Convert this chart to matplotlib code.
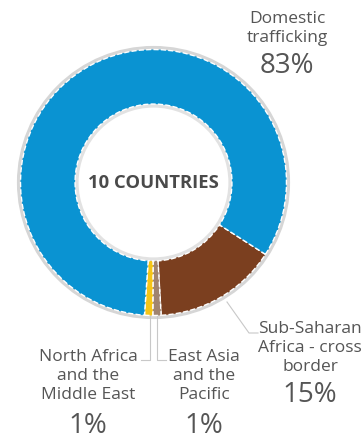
import matplotlib.pyplot as plt
from matplotlib.patches import Circle

# data (clockwise from the brown slice)
labels = ["Sub-Saharan\nAfrica - cross\nborder", "East Asia\nand the\nPacific",
          "North Africa\nand the\nMiddle East", "Domestic\ntrafficking"]
values = [15, 1, 1, 83]
pct_labels = ["15%", "1%", "1%", "83%"]
colors = ["#7b3f1f", "#a08470", "#f5c518", "#0a93d2"]

W, H = 364, 440
fig = plt.figure(figsize=(W / 100, H / 100), dpi=100)
ax = fig.add_axes([0, 0, 1, 1])

cx, cy, r = 153.5, H - 182.5, 133
ring = 0.41

# soft shadow around the ring
ax.add_patch(Circle((cx, cy), r + 1.5, facecolor="none", edgecolor="#d6d6d6", lw=3, zorder=0))
ax.add_patch(Circle((cx, cy), r * (1 - ring) - 1.5, facecolor="none", edgecolor="#e2e2e2", lw=3, zorder=0))

ax.pie(values, colors=colors, center=(cx, cy), radius=r, startangle=-32.7,
       counterclock=False, frame=True,
       wedgeprops=dict(width=r * ring, edgecolor="white", linewidth=1, linestyle="--"))
ax.set_xlim(0, W)
ax.set_ylim(0, H)
ax.axis("off")

ax.text(cx, cy, "10 COUNTRIES", ha="center", va="center", fontsize=13.3,
        fontweight="bold", color="#4a4a4a", family="Open Sans")

txt = dict(ha="center", va="center", color="#555555", family="Open Sans", linespacing=1.27)
# label positions in pixels (x, y of middle of the text block, y of percentage)
pos = [(310, 348, 395), (204, 376, 426), (88, 376, 426), (287, 28.5, 66)]
for lab, p, (x, ym, yp) in zip(labels, pct_labels, pos):
    ax.text(x, H - ym, lab, fontsize=12.5, **txt)
    ax.text(x, H - yp, p, fontsize=20, **txt)

# leader lines
lc = dict(color="#c8c8c8", lw=0.8)
ax.plot([227, 249, 258], [H - 302, H - 333, H - 333], **lc)
ax.plot([157, 157, 166], [H - 316, H - 360, H - 360], **lc)
ax.plot([150, 150, 141], [H - 316, H - 360, H - 360], **lc)

fig.savefig("out.png", dpi=100, facecolor="white")
